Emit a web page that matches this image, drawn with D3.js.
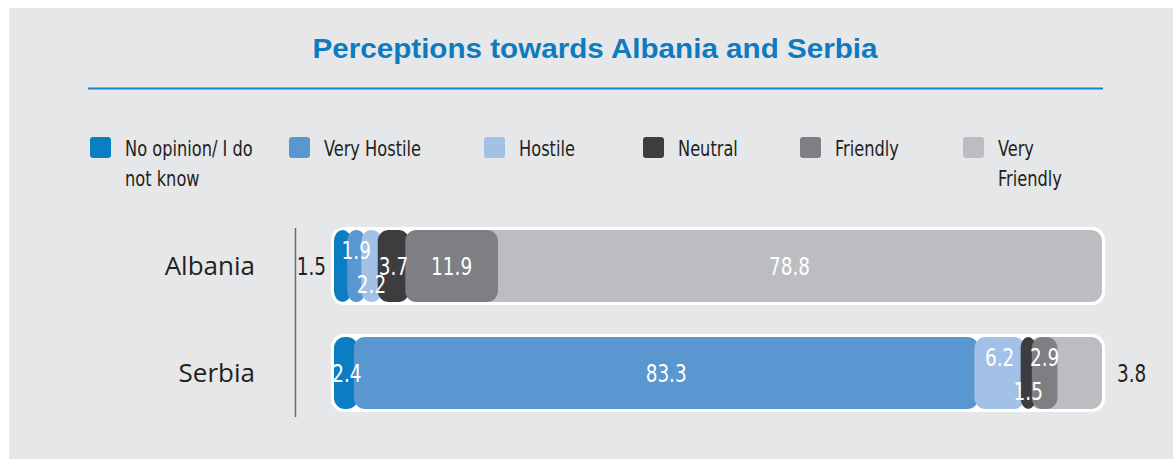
<!DOCTYPE html>
<html>
<head>
<meta charset="utf-8">
<script src="https://cdn.jsdelivr.net/npm/d3@7"></script>
<style>
  html, body { margin: 0; padding: 0; background: #ffffff; }
  svg { display: block; }
</style>
</head>
<body>
<svg id="chart" width="1173" height="459"></svg>
<script>
// ---------- DATA ----------
const title = "Perceptions towards Albania and Serbia";
const categories = ["Albania", "Serbia"];
const seriesNames = ["No opinion/ I do not know", "Very Hostile", "Hostile", "Neutral", "Friendly", "Very Friendly"];
const legendLines = [["No opinion/ I do", "not know"], ["Very Hostile"], ["Hostile"], ["Neutral"], ["Friendly"], ["Very", "Friendly"]];
const albaniaValues = [1.5, 1.9, 2.2, 3.7, 11.9, 78.8];
const serbiaValues  = [2.4, 83.3, 6.2, 1.5, 2.9, 3.8];
const valueLabels = {
  Albania: ["1.5", "1.9", "2.2", "3.7", "11.9", "78.8"],
  Serbia:  ["2.4", "83.3", "6.2", "1.5", "2.9", "3.8"]
};

// ---------- STYLE / LAYOUT ----------
const colors = ["#0b7dc2", "#5a96d0", "#a3c1e6", "#3d3d3f", "#7e7f82", "#bcbdc0"];
const labelPlacement = {
  Albania: ["outLeft", "top", "bottom", "mid", "mid", "mid"],
  Serbia:  ["mid", "mid", "top", "bottom", "top", "outRight"]
};
const narrow = "'DejaVu Sans Condensed', 'Liberation Sans', sans-serif";
const squeeze = 0.82;
const legendX = [90, 289, 484, 643, 800, 963];

const svg = d3.select("#chart");

// helper: condensed text placed at (px, py)
function narrowText(sel, px, py) {
  return sel.attr("x", 0).attr("y", 0)
    .attr("transform", `translate(${px},${py}) scale(${squeeze},1)`)
    .attr("font-family", narrow);
}

// panel
svg.append("rect").attr("x", 9).attr("y", 8).attr("width", 1173 - 9).attr("height", 459 - 8)
  .attr("fill", "#e6e7e9");

// title
svg.append("text").attr("x", 595).attr("y", 58).attr("text-anchor", "middle")
  .attr("font-family", "'Liberation Sans', Arial, sans-serif").attr("font-weight", "bold")
  .attr("font-size", 28).attr("fill", "#0e7bc0")
  .attr("textLength", 565).attr("lengthAdjust", "spacingAndGlyphs")
  .text(title);
svg.append("line").attr("x1", 88).attr("x2", 1103).attr("y1", 88.5).attr("y2", 88.5)
  .attr("stroke", "#1b84c6").attr("stroke-width", 2);

// legend
const legend = svg.append("g").selectAll("g").data(seriesNames).join("g")
  .attr("transform", (d, i) => `translate(${legendX[i]},137)`);
legend.append("rect").attr("width", 21).attr("height", 21).attr("rx", 3)
  .attr("fill", (d, i) => colors[i]);
legend.each(function(d, i) {
  legendLines[i].forEach((line, j) => {
    narrowText(d3.select(this).append("text"), 35, 19 + j * 30)
      .attr("font-size", 22).attr("fill", "#231f20").text(line);
  });
});

// scales
const x = d3.scaleLinear().domain([0, 100]).range([334, 1079]);
const y = d3.scaleBand().domain(categories).range([227, 412]).paddingInner(0.27).paddingOuter(0);
const barLeft = 331, barRight = 1105;
const r = 11;

// y axis line
svg.append("line").attr("x1", 295.5).attr("x2", 295.5).attr("y1", 228).attr("y2", 417)
  .attr("stroke", "#6d6e71").attr("stroke-width", 1.5);

// category labels
svg.append("g").selectAll("text").data(categories).join("text")
  .attr("x", 255).attr("y", d => y(d) + y.bandwidth() / 2 + 9)
  .attr("text-anchor", "end").attr("font-family", "'Open Sans', 'Noto Sans', sans-serif")
  .attr("font-size", 26).attr("fill", "#231f20").text(d => d);

const rows = [
  { cat: "Albania", values: albaniaValues },
  { cat: "Serbia", values: serbiaValues }
];

rows.forEach(row => {
  const top = y(row.cat), h = y.bandwidth();
  const g = svg.append("g");
  // outer container
  g.append("rect").attr("x", barLeft).attr("y", top).attr("width", barRight - barLeft).attr("height", h)
    .attr("rx", r + 2).attr("fill", "#ffffff");
  let cum = 0;
  const segs = row.values.map((v, i) => {
    const s = { i, v, start: cum, end: cum + v };
    cum += v;
    return s;
  });
  const n = segs.length;
  const innerTop = top + 3, innerH = h - 6;
  // last segment first: it fills the remaining container under the others
  const order = [n - 1].concat(d3.range(0, n - 1));
  order.forEach(i => {
    const s = segs[i];
    let x0 = i === 0 ? barLeft + 3 : x(s.start) + 2;
    let x1 = i === n - 1 ? barRight - 3 : x(s.end) + 6;
    if (i === n - 1) x0 = Math.max(barLeft + 3, x(s.start) - 2 * r);
    g.append("rect").attr("x", x0).attr("y", innerTop).attr("width", Math.max(0, x1 - x0))
      .attr("height", innerH).attr("rx", r).attr("fill", colors[i]);
  });
  // labels
  const cy = top + h / 2;
  segs.forEach(s => {
    const pl = labelPlacement[row.cat][s.i];
    const txt = valueLabels[row.cat][s.i];
    const mid = (x(s.start) + x(s.end)) / 2 + 4;
    let px, py, anchor, fill;
    if (pl === "outLeft") {
      px = barLeft - 5; py = cy + 9; anchor = "end"; fill = "#231f20";
    } else if (pl === "outRight") {
      px = barRight + 12; py = cy + 9; anchor = "start"; fill = "#231f20";
    } else {
      const dy = pl === "top" ? -16 : pl === "bottom" ? 18 : 0;
      px = mid; py = cy + dy + 9; anchor = "middle"; fill = "#ffffff";
    }
    narrowText(g.append("text"), px, py)
      .attr("font-size", 25).attr("text-anchor", anchor).attr("fill", fill).text(txt);
  });
});
</script>
</body>
</html>
